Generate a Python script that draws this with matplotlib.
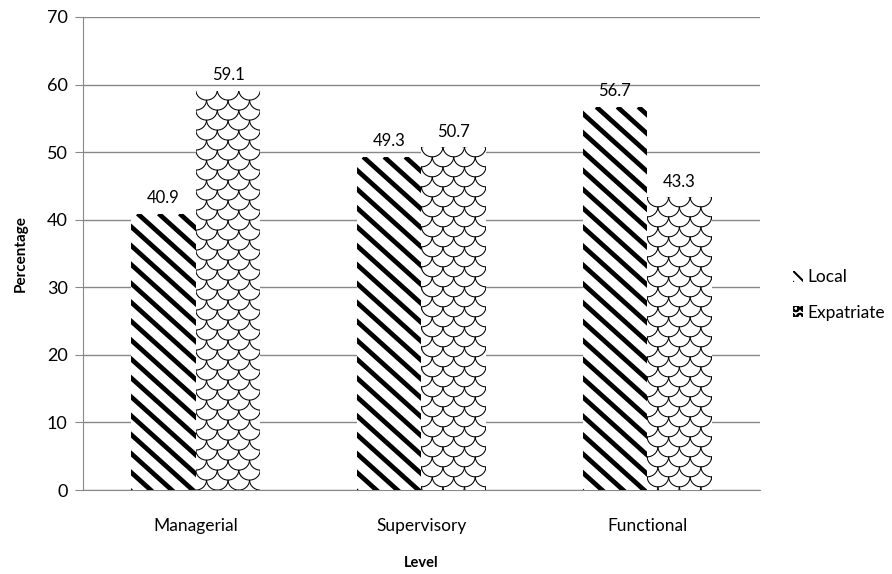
import numpy as np
import matplotlib.pyplot as plt
from matplotlib.patches import Patch
from matplotlib.collections import LineCollection
from matplotlib.transforms import IdentityTransform

# employee levels and shares (%)
levels = ["Managerial", "Supervisory", "Functional"]
local = [40.9, 49.3, 56.7]
expatriate = [59.1, 50.7, 43.3]

plt.rcParams['font.family'] = ['Lato', 'DejaVu Sans']

fig = plt.figure(figsize=(8.92, 5.74), dpi=100)
ax = fig.add_axes([0.093, 0.1463, 0.759, 0.8241])

x = np.arange(len(levels))
w = 0.286

b1 = ax.bar(x - w / 2, local, w, color='white', linewidth=0, label='Local', zorder=3)
b2 = ax.bar(x + w / 2, expatriate, w, color='white', linewidth=0, label='Expatriate', zorder=3)

ax.set_xlim(-0.5, 2.5)
ax.set_ylim(0, 70)


def bar_pixels(p):
    (x0, y0), (x1, y1) = ax.transData.transform([(p.get_x(), 0), (p.get_x() + p.get_width(), p.get_height())])
    return x0, y0, x1, y1


def stripes(p, period=21, slope=0.9):
    # thick diagonal stripes running down to the right
    x0, y0, x1, y1 = bar_pixels(p)
    segs = []
    span = (y1 - y0) / slope + (x1 - x0)
    for c in np.arange(x0 - span, x1 + span, period):
        segs.append([(c, y1), (c + (y1 - y0) / slope + 40, y1 - (y1 - y0) - 40 * slope)])
    lc = LineCollection(segs, colors='black', linewidths=3.4, transform=IdentityTransform(), zorder=4)
    ax.add_collection(lc, autolim=False)
    lc.set_clip_path(p)


def scales(p, cell=21.5, row=10.0):
    # overlapping half-circle scales
    x0, y0, x1, y1 = bar_pixels(p)
    r = cell / 2
    t = np.linspace(np.pi, 2 * np.pi, 16)
    segs = []
    for k, yc in enumerate(np.arange(y1 + r, y0 - r, -row)):
        off = 0 if k % 2 == 0 else r
        for xc in np.arange(x0 - cell + off, x1 + cell, cell):
            segs.append(np.column_stack([xc + r * np.cos(t), yc + r * 0.95 * np.sin(t)]))
    lc = LineCollection(segs, colors='black', linewidths=0.75, transform=IdentityTransform(), zorder=4)
    ax.add_collection(lc, autolim=False)
    lc.set_clip_path(p)


for p in b1:
    stripes(p)
for p in b2:
    scales(p)

for bars, vals in ((b1, local), (b2, expatriate)):
    for p, v in zip(bars, vals):
        ax.text(p.get_x() + p.get_width() / 2, v + 1.1, f"{v:.1f}",
                ha='center', va='bottom', fontsize=12)

ax.set_yticks(range(0, 71, 10))
ax.set_xticks(x)
ax.set_xticklabels(levels, fontsize=12.5)
ax.tick_params(axis='y', labelsize=13, color='#888888', length=6, pad=5)
ax.tick_params(axis='x', length=0, pad=20)
ax.yaxis.grid(True, color='#888888', linewidth=1, zorder=0)
for s in ('top', 'right'):
    ax.spines[s].set_visible(False)
ax.spines['left'].set_color('#888888')
ax.spines['bottom'].set_color('#888888')

ax.set_ylabel('Percentage', fontsize=11, fontweight='bold', labelpad=14)
ax.set_xlabel('Level', fontsize=10.5, fontweight='bold', labelpad=16)

plt.rcParams['hatch.linewidth'] = 1.5
handles = [Patch(facecolor='white', edgecolor='black', hatch='\\\\\\', linewidth=0, label='Local'),
           Patch(facecolor='white', edgecolor='black', hatch='OO', linewidth=0, label='Expatriate')]
fig.legend(handles=handles, loc='center left', bbox_to_anchor=(0.889, 0.486),
           frameon=False, fontsize=12.5, handlelength=0.6, handleheight=0.6,
           handletextpad=0.25, labelspacing=1.1, borderpad=0, borderaxespad=0)

fig.savefig('out.png', dpi=100)
